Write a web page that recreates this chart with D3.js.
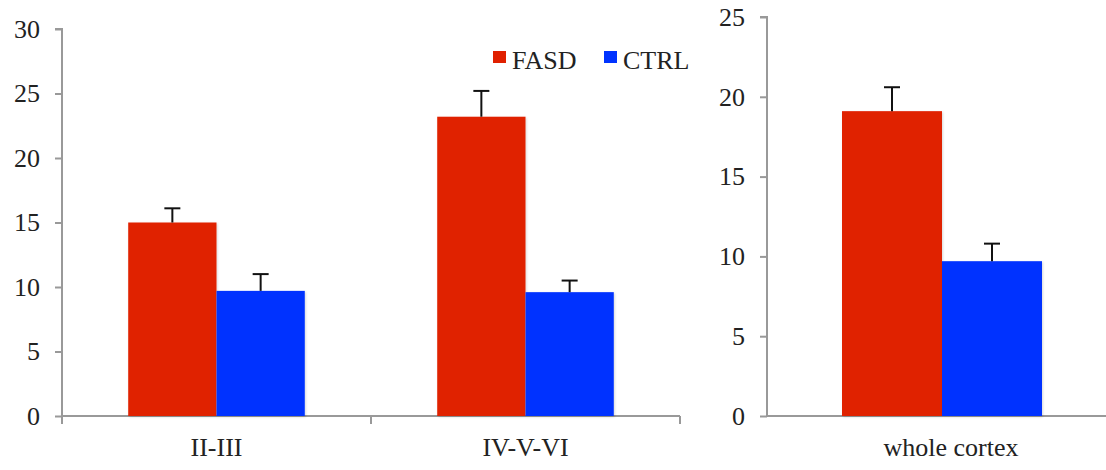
<!DOCTYPE html>
<html><head><meta charset="utf-8">
<script src="https://cdn.jsdelivr.net/npm/d3@7"></script>
<style>
html,body{margin:0;padding:0;background:#fff;}
text{font-family:"Liberation Serif","Times New Roman",serif;fill:#222;}
</style></head>
<body><svg id="c" width="1106" height="470"></svg>
<script>
const series = ["FASD", "CTRL"];
const colors = ["#E02000", "#0033FF"];

const layerCats = ["II-III", "IV-V-VI"];
const layerFASD = [15.0, 23.2];
const layerFASDerr = [1.1, 2.0];
const layerCTRL = [9.7, 9.6];
const layerCTRLerr = [1.3, 0.9];
const layerTicks = [0, 5, 10, 15, 20, 25, 30];

const wholeCats = ["whole cortex"];
const wholeFASD = [19.1];
const wholeFASDerr = [1.5];
const wholeCTRL = [9.7];
const wholeCTRLerr = [1.1];
const wholeTicks = [0, 5, 10, 15, 20, 25];

const svg = d3.select("#c");
const axisColor = "#999";
const fontSize = "26px";
const fontFam = "'Liberation Serif', 'Times New Roman', serif";

function panel(cfg) {
  const g = svg.append("g");
  const x0 = d3.scaleBand().domain(cfg.cats).range(cfg.xr).paddingInner(0).paddingOuter(0);
  const x1 = d3.scaleBand().domain(series).range([0, x0.bandwidth()]).paddingInner(0).paddingOuter(0.75);
  const y = d3.scaleLinear().domain(cfg.yd).range(cfg.yr);
  const rows = [];
  cfg.cats.forEach((c, i) => {
    rows.push({cat: c, s: 0, v: cfg.fasd[i], e: cfg.fasdErr[i]});
    rows.push({cat: c, s: 1, v: cfg.ctrl[i], e: cfg.ctrlErr[i]});
  });
  // y axis
  const ya = d3.axisLeft(y).tickValues(cfg.ticks).tickSize(7).tickPadding(15).tickFormat(d3.format("d"));
  const yg = g.append("g").attr("transform", `translate(${cfg.xr[0]},0)`).call(ya);
  yg.select(".domain").attr("stroke", axisColor).attr("stroke-width", 2).attr("d", `M-7,${cfg.yr[1]}H0V${cfg.yr[0]}`);
  yg.selectAll(".tick line").attr("stroke", axisColor).attr("stroke-width", 2);
  yg.selectAll(".tick text").style("font-size", fontSize).style("fill", "#222").style("font-family", fontFam);
  // x axis
  const xa = d3.axisBottom(x0).tickSize(0).tickPadding(22);
  const xg = g.append("g").attr("transform", `translate(0,${cfg.yr[0]})`).call(xa);
  xg.select(".domain").attr("stroke", axisColor).attr("stroke-width", 2).attr("d", `M${cfg.xr[0]},0H${cfg.xEnd}`);
  xg.selectAll(".tick text").style("font-size", fontSize).style("fill", "#222").style("font-family", fontFam)
    .attr("dx", cfg.labelDx || 0);
  // category boundary ticks
  if (cfg.boundaryTicks) {
    const bounds = cfg.cats.map(c => x0(c)).concat([x0(cfg.cats[cfg.cats.length - 1]) + x0.bandwidth()]);
    xg.selectAll("line.bt").data(bounds).enter().append("line")
      .attr("x1", d => d).attr("x2", d => d).attr("y1", 0).attr("y2", 8)
      .attr("stroke", axisColor).attr("stroke-width", 2);
  }
  // bars
  g.selectAll("rect.bar").data(rows).enter().append("rect")
    .attr("x", d => x0(d.cat) + x1(series[d.s]))
    .attr("width", x1.bandwidth())
    .attr("y", d => y(d.v))
    .attr("height", d => y(0) - y(d.v))
    .attr("fill", d => colors[d.s])
    .attr("filter", "url(#sh)");
  // error bars
  const eg = g.selectAll("g.err").data(rows).enter().append("g");
  eg.append("line")
    .attr("x1", d => x0(d.cat) + x1(series[d.s]) + x1.bandwidth() / 2)
    .attr("x2", d => x0(d.cat) + x1(series[d.s]) + x1.bandwidth() / 2)
    .attr("y1", d => y(d.v)).attr("y2", d => y(d.v + d.e))
    .attr("stroke", "#111").attr("stroke-width", 2);
  eg.append("line")
    .attr("x1", d => x0(d.cat) + x1(series[d.s]) + x1.bandwidth() / 2 - 8)
    .attr("x2", d => x0(d.cat) + x1(series[d.s]) + x1.bandwidth() / 2 + 8)
    .attr("y1", d => y(d.v + d.e)).attr("y2", d => y(d.v + d.e))
    .attr("stroke", "#111").attr("stroke-width", 2);
}

const defs = svg.append("defs");
const f = defs.append("filter").attr("id", "sh").attr("x", "-10%").attr("y", "-10%").attr("width", "130%").attr("height", "130%");
f.append("feDropShadow").attr("dx", 1).attr("dy", 1).attr("stdDeviation", 1.2).attr("flood-color", "#000").attr("flood-opacity", 0.15);

panel({cats: layerCats, fasd: layerFASD, fasdErr: layerFASDerr, ctrl: layerCTRL, ctrlErr: layerCTRLerr,
  ticks: layerTicks, yd: [0, 30], yr: [416, 29], xr: [62, 680], xEnd: 680, boundaryTicks: true});
panel({cats: wholeCats, fasd: wholeFASD, fasdErr: wholeFASDerr, ctrl: wholeCTRL, ctrlErr: wholeCTRLerr,
  ticks: wholeTicks, yd: [0, 25], yr: [416, 17], xr: [767, 1117], xEnd: 1106, boundaryTicks: false, labelDx: 9});

// legend
const lg = svg.append("g").attr("transform", "translate(493,51)");
const legX = [0, 111];
series.forEach((s, i) => {
  lg.append("rect").attr("x", legX[i]).attr("y", 0).attr("width", 13).attr("height", 12).attr("fill", colors[i]);
  lg.append("text").attr("x", legX[i] + 19).attr("y", 18).style("font-size", fontSize).style("font-family", fontFam).text(s);
});
</script></body></html>
